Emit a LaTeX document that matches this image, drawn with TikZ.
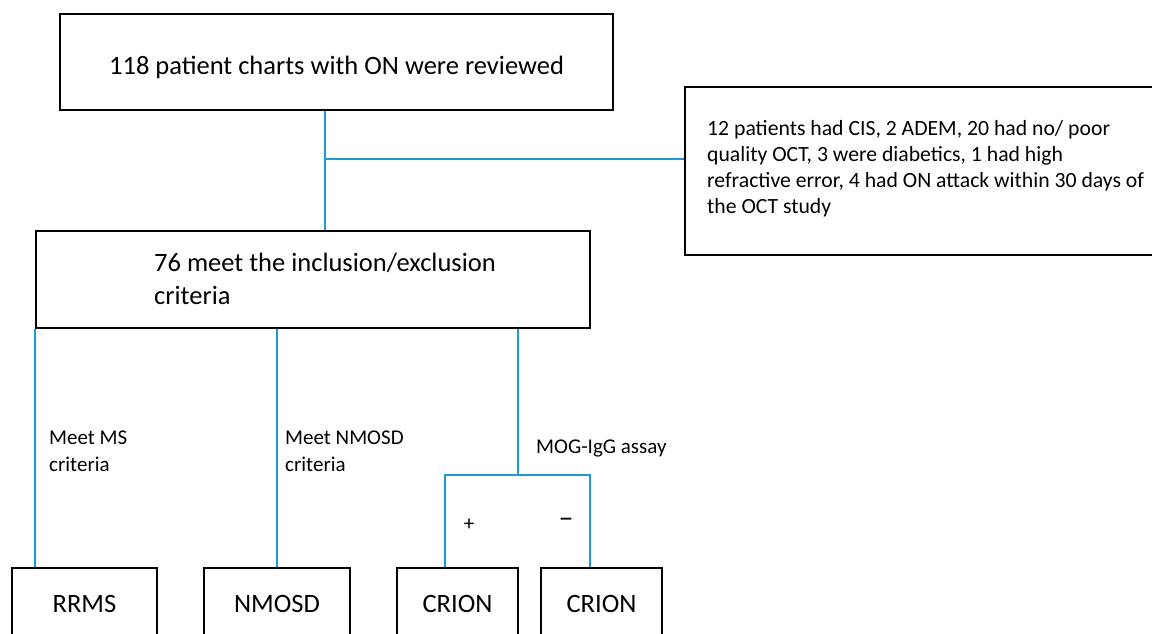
\documentclass[tikz,border=0pt]{standalone}
\usepackage{fontspec}
\setmainfont{Carlito}
\definecolor{linkblue}{RGB}{30,152,215}
\tikzset{
  box/.style={draw=black, line width=2pt, rectangle, inner sep=0pt},
  link/.style={draw=linkblue, line width=2.5pt},
  lbl/.style={inner sep=0pt, anchor=west, align=left, font=\fontsize{21}{27}\selectfont},
  big/.style={font=\fontsize{26.5}{33}\selectfont}
}
\begin{document}
\begin{tikzpicture}[x=1pt,y=-1pt]
  \useasboundingbox (0,0) rectangle (1152,634);
  \clip (0,0) rectangle (1152,634);

  \node[box, minimum width=553pt, minimum height=96pt] (charts) at (336.5,62) {};
  \node[big, inner sep=0pt] (chartstext) at (336.5,67) {118 patient charts with ON were reviewed};

  \node[box, minimum width=554pt, minimum height=97pt] (incl) at (313,279.5) {};
  \node[lbl, big] (incltext) at (154,278.5) {76 meet the inclusion/exclusion\\criteria};

  \node[box, minimum width=480pt, minimum height=168pt] (excl) at (925,171) {};
  \node[lbl, font=\fontsize{21.7}{26}\selectfont] (excltext) at (707,169) {12 patients had CIS, 2 ADEM, 20 had no/ poor\\quality OCT, 3 were diabetics, 1 had high\\refractive error, 4 had ON attack within 30 days of\\the OCT study};

  \node[box, big, minimum width=145pt, minimum height=72pt] (rrms) at (84.5,604) {RRMS};
  \node[box, big, minimum width=146pt, minimum height=72pt] (nmosd) at (277,604) {NMOSD};
  \node[box, big, minimum width=121pt, minimum height=72pt] (crionpos) at (457.5,604) {CRION};
  \node[box, big, minimum width=121pt, minimum height=72pt] (crionneg) at (601.5,604) {CRION};

  \coordinate (split) at (325,159);
  \draw[link] (split |- charts.south) -- (split |- incl.north);
  \draw[link] (split) -- (excl.west |- split);

  \draw[link] (incl.south west) -- (incl.south west |- rrms.north);
  \draw[link] (nmosd.north |- incl.south) -- (nmosd.north);

  \coordinate (mog) at (518,475);
  \coordinate (posfork) at (445,475);
  \coordinate (negfork) at (590,475);
  \draw[link] (mog |- incl.south) -- (mog);
  \draw[link] (posfork |- crionpos.north) -- (posfork) -- (negfork) -- (negfork |- crionneg.north);

  \node[lbl] (mslbl) at (49,451.5) {Meet MS\\criteria};
  \node[lbl] (nmolbl) at (285,451.5) {Meet NMOSD\\criteria};
  \node[lbl] (moglbl) at (536,448) {MOG-IgG assay};
  \node[lbl, anchor=center] (poslbl) at (469,525) {+};
  \node[lbl, anchor=center, font=\fontsize{30}{30}\selectfont] (neglbl) at (566,523) {–};
\end{tikzpicture}
\end{document}
